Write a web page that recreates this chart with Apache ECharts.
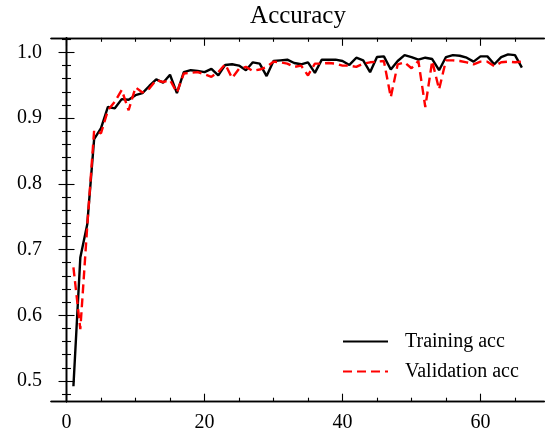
<!DOCTYPE html>
<html>
<head>
<meta charset="utf-8">
<script src="https://cdn.jsdelivr.net/npm/echarts@6/dist/echarts.min.js"></script>
<style>html,body{margin:0;padding:0;background:#fff}#c{width:551px;height:430px}</style>
</head>
<body>
<div id="c"></div>
<script>
const epochs = Array.from({length: 66}, (_, i) => i + 1);
const trainingAcc = [
  0.492, 0.688, 0.738, 0.868, 0.885, 0.917, 0.915, 0.929, 0.928, 0.935,
  0.938, 0.949, 0.959, 0.954, 0.966, 0.938, 0.970, 0.973, 0.972, 0.970,
  0.975, 0.965, 0.981, 0.982, 0.980, 0.973, 0.985, 0.983, 0.964, 0.987,
  0.988, 0.989, 0.984, 0.982, 0.985, 0.969, 0.989, 0.989, 0.989, 0.987,
  0.981, 0.992, 0.988, 0.970, 0.993, 0.994, 0.974, 0.987, 0.996, 0.993,
  0.989, 0.992, 0.990, 0.973, 0.993, 0.996, 0.995, 0.992, 0.986, 0.994,
  0.994, 0.982, 0.993, 0.997, 0.996, 0.977
];
const validationAcc = [
  0.673, 0.579, 0.735, 0.881, 0.877, 0.912, 0.925, 0.943, 0.912, 0.947,
  0.939, 0.945, 0.958, 0.955, 0.958, 0.939, 0.968, 0.969, 0.970, 0.967,
  0.963, 0.970, 0.982, 0.961, 0.975, 0.978, 0.972, 0.974, 0.978, 0.986,
  0.985, 0.983, 0.978, 0.980, 0.965, 0.983, 0.983, 0.984, 0.983, 0.980,
  0.980, 0.978, 0.983, 0.985, 0.986, 0.987, 0.932, 0.982, 0.985, 0.976,
  0.987, 0.917, 0.987, 0.944, 0.988, 0.988, 0.987, 0.985, 0.982, 0.986,
  0.986, 0.979, 0.985, 0.986, 0.985, 0.986
];
const xMajorTicks = [0, 20, 40, 60];
const xMinorTicks = [5, 10, 15, 25, 30, 35, 45, 50, 55, 65];
const yMajorTicks = [0.5, 0.6, 0.7, 0.8, 0.9, 1.0];
const yMinorTicks = [0.48, 0.52, 0.54, 0.56, 0.58, 0.62, 0.64, 0.66, 0.68, 0.72, 0.74, 0.76, 0.78,
  0.82, 0.84, 0.86, 0.88, 0.92, 0.94, 0.96, 0.98, 1.02];

const FONT = 'Liberation Serif';
const X_MIN = -2.25, X_MAX = 69.25, Y_MIN = 0.4685, Y_MAX = 1.0223;
const axisLineStyle = {show: true, lineStyle: {color: '#000', width: 1.3}};

function xAx(pos, ticks, len, labels) {
  return {
    type: 'value', position: pos, min: X_MIN, max: X_MAX,
    axisLine: axisLineStyle,
    axisTick: {show: true, inside: true, length: len, customValues: ticks, lineStyle: {color: '#000', width: 1.1}},
    axisLabel: labels ? {show: true, customValues: ticks, color: '#000', fontFamily: FONT, fontSize: 20, margin: 11} : {show: false},
    splitLine: {show: false}
  };
}
function yAx(pos, ticks, len, labels) {
  return {
    type: 'value', position: pos, min: Y_MIN, max: Y_MAX,
    axisLine: axisLineStyle,
    axisTick: {show: true, inside: true, length: len, customValues: ticks, lineStyle: {color: '#000', width: 1.1}},
    axisLabel: labels ? {show: true, customValues: ticks, color: '#000', fontFamily: FONT, fontSize: 20, margin: 9,
      formatter: v => v.toFixed(1)} : {show: false},
    splitLine: {show: false}
  };
}

const chart = echarts.init(document.getElementById('c'), null, {renderer: 'canvas'});
chart.setOption({
  animation: false,
  backgroundColor: '#fff',
  title: {
    text: 'Accuracy', left: 293, top: -1, textAlign: 'center',
    textStyle: {fontFamily: FONT, fontSize: 25, fontWeight: 'normal', color: '#000'}
  },
  grid: {left: 51, right: 6.7, top: 37.8, bottom: 28.3, containLabel: false, outerBoundsMode: 'none'},
  xAxis: [
    xAx('bottom', xMajorTicks, 8, true),
    xAx('bottom', xMinorTicks, 4, false),
    xAx('top', xMajorTicks, 8, false),
    xAx('top', xMinorTicks, 4, false)
  ],
  yAxis: [
    yAx('left', yMajorTicks, 8, true),
    yAx('left', yMinorTicks, 4.5, false),
    yAx('right', yMajorTicks, 8, false),
    yAx('right', yMinorTicks, 4.5, false)
  ],
  legend: {
    orient: 'vertical', left: 342, top: 331.5, padding: 0, itemWidth: 45, itemHeight: 20, itemGap: 10,
    itemStyle: {opacity: 0},
    textStyle: {fontFamily: FONT, fontSize: 20, color: '#000', padding: [0, 0, 0, 12]},
    data: ['Training acc', 'Validation acc']
  },
  series: [
    {
      name: 'Training acc', type: 'line', symbol: 'none', xAxisIndex: 0, yAxisIndex: 0,
      data: epochs.map((e, i) => [e, trainingAcc[i]]),
      lineStyle: {color: '#000', width: 2.4}, itemStyle: {color: '#000'}
    },
    {
      name: 'Validation acc', type: 'line', symbol: 'none', xAxisIndex: 0, yAxisIndex: 0,
      data: epochs.map((e, i) => [e, validationAcc[i]]),
      lineStyle: {color: '#ff0000', width: 2.4, type: [9, 5]}, itemStyle: {color: '#ff0000'}
    }
  ]
});
</script>
</body>
</html>
